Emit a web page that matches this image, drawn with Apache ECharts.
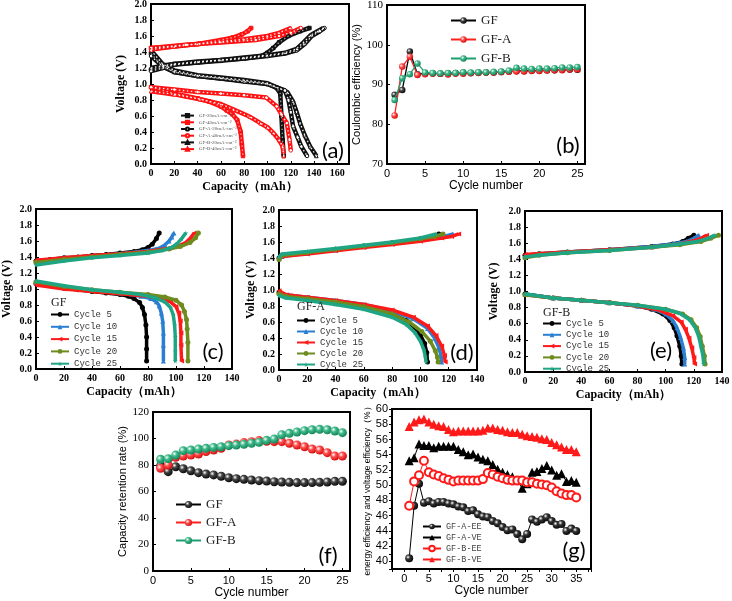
<!DOCTYPE html>
<html><head><meta charset="utf-8">
<script src="https://cdn.jsdelivr.net/npm/echarts@6/dist/echarts.min.js"></script>
<style>html,body{margin:0;padding:0;background:#fff}#c{width:732px;height:601px}</style>
</head><body><div id="c"></div>
<script>
// ---------- Panel (a): capacity (mAh) vs voltage (V) ----------
const aGF20Chg = [[0,1.18],[10,1.22],[20,1.25],[40,1.27],[60,1.29],[80,1.32],[95,1.35],[100,1.39],[105,1.45],[110,1.52],[118,1.60],[128,1.66],[136,1.70]];
const aGF20Dis = [[0,1.38],[5,1.30],[10,1.22],[20,1.15],[40,1.10],[60,1.07],[80,1.04],[100,1.00],[108,0.95],[111,0.88],[112,0.60],[113,0.30],[114,0.10]];
const aGF40Chg = [[0,1.45],[20,1.47],[40,1.50],[60,1.55],[70,1.58],[78,1.62],[83,1.66],[86,1.70]];
const aGF40Dis = [[0,0.96],[10,0.92],[20,0.88],[30,0.85],[40,0.82],[50,0.78],[60,0.72],[65,0.67],[70,0.62],[74,0.55],[77,0.40],[78,0.25],[79,0.10]];
const aGFA20Chg = [[0,1.16],[10,1.20],[20,1.24],[40,1.27],[60,1.30],[80,1.32],[100,1.35],[115,1.38],[125,1.42],[132,1.50],[138,1.60],[145,1.66],[149,1.70]];
const aGFA20Dis = [[0,1.35],[10,1.22],[20,1.15],[40,1.10],[60,1.07],[80,1.03],[100,1.00],[115,0.92],[118,0.80],[120,0.65],[122,0.47],[126,0.33],[129,0.22],[134,0.10]];
const aGFA40Chg = [[0,1.45],[30,1.49],[60,1.52],[90,1.55],[110,1.60],[120,1.64],[128.6,1.70]];
const aGFA40Dis = [[0,0.96],[20,0.93],[40,0.90],[60,0.88],[80,0.86],[99,0.83],[108,0.72],[112,0.62],[116.6,0.51],[119,0.30],[120,0.17]];
const aGFB20Chg = [[0,1.20],[10,1.23],[20,1.25],[40,1.28],[60,1.30],[80,1.33],[100,1.36],[115,1.39],[125,1.44],[131,1.52],[137,1.61],[143,1.66],[148,1.70]];
const aGFB20Dis = [[0,1.42],[10,1.25],[20,1.17],[40,1.11],[60,1.08],[80,1.05],[100,1.01],[117,0.90],[122,0.78],[125,0.65],[128,0.51],[132,0.36],[136.6,0.22],[142,0.10]];
const aGFB40Chg = [[0,1.43],[20,1.47],[40,1.50],[60,1.53],[80,1.56],[100,1.60],[110,1.64],[120,1.70]];
const aGFB40Dis = [[0,0.91],[20,0.87],[42,0.81],[60,0.75],[71,0.68],[85,0.59],[94,0.51],[100,0.46],[105,0.39],[110,0.30],[113,0.22],[114,0.10]];
const aNames = ['GF-20mA·cm⁻²','GF-40mA·cm⁻²','GF-A-20mA·cm⁻²','GF-A-40mA·cm⁻²','GF-B-20mA·cm⁻²','GF-B-40mA·cm⁻²'];

// ---------- Panels (b), (f): per cycle ----------
const cyc25 = [1,2,3,4,5,6,7,8,9,10,11,12,13,14,15,16,17,18,19,20,21,22,23,24,25];
const bGF  = [87.4,88.6,98.3,92.6,92.8,92.8,92.7,92.8,92.9,93.0,92.9,93.0,93.0,93.0,93.2,93.3,93.4,93.4,93.5,93.5,93.6,93.6,93.7,93.8,93.7];
const bGFA = [82.2,94.5,97.0,92.4,92.6,92.7,92.7,92.5,92.7,92.7,92.8,92.9,93.0,93.0,93.1,93.2,93.3,93.3,93.4,93.4,93.5,93.6,93.6,93.8,93.8];
const bGFB = [86.1,91.6,92.6,95.3,93.0,92.9,92.8,92.9,92.9,93.1,93.0,93.1,93.1,93.2,93.3,93.5,94.2,94.0,93.9,94.0,94.0,94.1,94.3,94.3,94.4];
const fGF  = [79.5,75.0,78.7,77.2,75.7,74.2,73.2,72.5,71.5,70.4,69.7,69.2,68.7,68.2,67.9,67.4,67.2,66.9,66.7,66.7,66.7,66.9,67.2,67.7,67.7];
const fGFA = [77.5,80.0,85.8,86.8,87.5,88.3,90.1,91.3,92.6,95.1,95.8,96.9,97.6,98.4,97.9,97.6,97.6,96.4,95.1,93.8,92.1,91.3,89.3,86.8,86.8];
const fGFB = [84.3,84.8,87.5,90.8,91.3,92.1,92.6,93.3,93.8,94.6,95.1,95.6,96.4,97.1,98.6,99.6,102.9,103.9,104.9,105.9,106.6,106.9,106.6,105.7,104.4];

// ---------- Panel (g) ----------
const cyc35 = [1,2,3,4,5,6,7,8,9,10,11,12,13,14,15,16,17,18,19,20,21,22,23,24,25,26,27,28,29,30,31,32,33,34,35];
const gAEE = [40.4,47.3,50.2,47.7,47.9,47.6,47.8,47.8,47.6,47.5,47.2,47.1,46.6,46.7,46.2,45.9,45.8,45.3,45.0,44.5,44.1,44.2,43.6,42.9,43.6,45.5,45.2,45.5,45.8,45.3,44.8,44.9,44.0,44.3,44.0];
const gAVE = [53.2,53.6,55.4,55.2,55.2,54.9,55.1,55.1,55.1,55.1,54.7,54.4,54.0,54.1,53.7,53.4,53.2,52.7,52.1,51.7,51.4,51.1,50.6,49.6,50.2,51.7,51.8,52.2,52.6,52.0,51.3,51.5,50.5,50.6,50.4];
const gBEE = [47.3,50.5,51.3,53.2,51.7,51.4,51.2,50.9,50.7,50.5,50.6,50.6,50.6,50.6,50.6,50.8,51.6,51.4,51.1,50.9,50.7,50.6,50.6,50.6,50.4,50.4,50.2,50.1,50.0,49.7,49.2,48.9,48.7,48.7,48.4];
const gBVE = [57.7,58.3,58.6,58.7,58.3,58.0,57.8,57.7,57.3,57.0,57.1,57.1,57.1,57.1,57.1,57.2,57.5,57.5,57.3,57.2,57.0,56.9,56.9,56.7,56.5,56.4,56.3,56.1,56.0,55.6,55.3,55.0,54.7,54.7,54.4];

// ---------- Panel (c): GF cycles ----------
const cC5Chg = [[0,1.35],[10,1.37],[20,1.39],[30,1.40],[40,1.42],[50,1.43],[60,1.45],[70,1.47],[76,1.49],[80,1.52],[83,1.56],[86,1.63],[88,1.70]];
const cC5Dis = [[0,1.07],[10,1.04],[20,1.01],[30,0.99],[40,0.97],[50,0.95],[60,0.93],[66,0.91],[70,0.88],[74,0.83],[76,0.77],[77.5,0.68],[78.5,0.55],[79,0.40],[79,0.25],[79,0.10]];
const cC10Chg = [[0,1.34],[20,1.38],[40,1.41],[60,1.44],[80,1.48],[88,1.51],[92,1.55],[95,1.60],[97,1.65],[98.5,1.70]];
const cC10Dis = [[0,1.08],[20,1.02],[40,0.98],[60,0.95],[75,0.91],[82,0.88],[86,0.84],[88,0.79],[89.5,0.70],[90.5,0.60],[91,0.45],[91,0.30],[91,0.10]];
const cC15Chg = [[0,1.36],[20,1.39],[40,1.42],[60,1.44],[80,1.47],[95,1.51],[102,1.54],[107,1.58],[110,1.63],[113,1.70]];
const cC15Dis = [[0,1.05],[20,1.00],[40,0.97],[60,0.94],[80,0.91],[90,0.88],[96,0.84],[100,0.78],[102,0.70],[103,0.60],[103.5,0.45],[103.5,0.30],[104,0.10]];
const cC20Chg = [[0,1.33],[20,1.37],[40,1.40],[60,1.43],[80,1.46],[95,1.50],[103,1.53],[110,1.58],[114,1.64],[116,1.70]];
const cC20Dis = [[0,1.09],[20,1.03],[40,0.99],[60,0.96],[80,0.93],[92,0.90],[100,0.86],[104,0.80],[106,0.72],[107.5,0.62],[108,0.50],[108.5,0.33],[108.5,0.10]];
const cC25Chg = [[0,1.30],[20,1.35],[40,1.39],[60,1.42],[80,1.45],[90,1.48],[97,1.52],[101,1.57],[104,1.63],[107,1.70]];
const cC25Dis = [[0,1.10],[20,1.04],[40,0.99],[60,0.96],[75,0.93],[85,0.89],[92,0.84],[96,0.77],[98,0.68],[99,0.55],[99.5,0.40],[99.5,0.22],[99.5,0.10]];

// ---------- Panel (d): GF-A cycles ----------
const dC5Chg = [[0,1.40],[2,1.43],[20,1.47],[40,1.51],[60,1.55],[80,1.59],[100,1.64],[110,1.67],[113,1.70]];
const dC5Dis = [[0,0.97],[5,0.93],[20,0.90],[40,0.86],[60,0.80],[80,0.70],[90,0.62],[96,0.53],[100,0.44],[103,0.33],[104.5,0.22],[105,0.10]];
const dC10Chg = [[0,1.39],[2,1.42],[20,1.46],[40,1.50],[60,1.54],[80,1.58],[100,1.62],[115,1.66],[123,1.70]];
const dC10Dis = [[0,0.97],[5,0.94],[20,0.91],[40,0.87],[60,0.82],[80,0.74],[95,0.64],[105,0.52],[110,0.40],[113,0.28],[114.5,0.18],[115,0.10]];
const dC15Chg = [[0,1.40],[2,1.42],[20,1.45],[40,1.49],[60,1.53],[80,1.57],[100,1.61],[115,1.65],[122,1.67],[127,1.70]];
const dC15Dis = [[0,0.99],[5,0.94],[20,0.91],[40,0.87],[60,0.82],[80,0.75],[95,0.66],[105,0.55],[111,0.43],[115,0.30],[117,0.18],[117.5,0.10]];
const dC20Chg = [[0,1.38],[2,1.43],[20,1.47],[40,1.51],[60,1.55],[80,1.59],[100,1.64],[110,1.67],[116,1.70]];
const dC20Dis = [[0,0.95],[5,0.92],[20,0.89],[40,0.85],[60,0.79],[80,0.70],[92,0.60],[101,0.48],[107,0.36],[110.5,0.24],[112,0.16],[112.5,0.10]];
const dC25Chg = [[0,1.41],[2,1.45],[20,1.48],[40,1.52],[60,1.56],[80,1.60],[100,1.65],[111,1.70]];
const dC25Dis = [[0,0.93],[5,0.90],[20,0.87],[40,0.82],[60,0.76],[80,0.66],[90,0.57],[96,0.47],[100,0.36],[102.5,0.25],[103.5,0.16],[104,0.10]];

// ---------- Panel (e): GF-B cycles ----------
const eC5Chg = [[0,1.45],[10,1.47],[30,1.49],[60,1.52],[90,1.56],[105,1.59],[112,1.62],[116,1.66],[120,1.70]];
const eC5Dis = [[0,0.97],[20,0.92],[40,0.89],[60,0.86],[80,0.82],[90,0.78],[98,0.72],[103,0.64],[106,0.55],[108,0.45],[110,0.32],[111,0.20],[111.5,0.10]];
const eC10Chg = [[0,1.44],[10,1.46],[30,1.49],[60,1.52],[90,1.56],[105,1.59],[115,1.62],[120,1.66],[123.5,1.70]];
const eC10Dis = [[0,0.97],[20,0.92],[40,0.89],[60,0.86],[80,0.82],[92,0.78],[100,0.72],[105,0.64],[108,0.55],[110.5,0.43],[112.5,0.30],[113.5,0.18],[113.5,0.10]];
const eC15Chg = [[0,1.46],[10,1.47],[30,1.49],[60,1.52],[90,1.55],[110,1.59],[120,1.63],[125,1.66],[129,1.70]];
const eC15Dis = [[0,0.96],[20,0.92],[40,0.89],[60,0.86],[80,0.82],[95,0.77],[105,0.70],[111,0.62],[114,0.53],[116.5,0.42],[118.5,0.30],[120,0.18],[120.5,0.10]];
const eC20Chg = [[0,1.42],[10,1.45],[30,1.48],[60,1.51],[90,1.55],[110,1.58],[125,1.62],[132,1.66],[137.5,1.70]];
const eC20Dis = [[0,0.96],[20,0.92],[40,0.89],[60,0.86],[80,0.83],[100,0.78],[112,0.72],[118,0.65],[122,0.55],[124.5,0.44],[126,0.32],[127.5,0.20],[128,0.10]];
const eC25Chg = [[0,1.43],[10,1.45],[30,1.48],[60,1.51],[90,1.55],[110,1.59],[122,1.62],[130,1.66],[135,1.70]];
const eC25Dis = [[0,0.97],[20,0.92],[40,0.89],[60,0.86],[80,0.83],[100,0.78],[110,0.73],[117,0.65],[121,0.55],[123.5,0.44],[125,0.32],[126.5,0.20],[127,0.10]];

const cycleNames = ['Cycle 5','Cycle 10','Cycle 15','Cycle 20','Cycle 25'];

// ---------- Build chart ----------
const SERIF = "'Liberation Serif','DejaVu Serif',serif";
const SANS = "'Liberation Sans',Arial,'DejaVu Sans',sans-serif";
const MONO = "'Liberation Mono','DejaVu Sans Mono',monospace";
const STAR = 'path://M50,0 L61,35 L98,35 L68,57 L79,91 L50,70 L21,91 L32,57 L2,35 L39,35 Z';
const cycColors = ['#000000','#2a7fd2','#ff1a1a','#6e8b1e','#1fa584'];
const cycSymbols = ['circle','triangle','triangle','circle',STAR];
const cycRot = [0,0,90,0,0];

const gridBoxes = [
  {left:151, top:4, width:198, height:160},
  {left:387, top:5, width:198, height:159},
  {left:36, top:209, width:196, height:160},
  {left:279, top:210, width:198, height:160},
  {left:525, top:211, width:197, height:161},
  {left:153, top:412, width:197, height:159},
  {left:392, top:409, width:199, height:160}
];
const grids = gridBoxes.map(g => Object.assign({show:true, borderColor:'#000', borderWidth:2, containLabel:false, outerBoundsMode:'none'}, g));

const fmtV = v => Math.abs(v*5 - Math.round(v*5)) < 1e-6 ? v.toFixed(1) : '';
const fmtCap = v => (Math.abs(v % 20) < 1e-6) ? String(v) : '';
const fmtCyc = v => (v >= 0 && Math.abs(v % 5) < 1e-6) ? String(v) : '';
const fmtEven = v => (Math.abs(v % 2) < 1e-6) ? String(v) : '';
const fmtPlain = v => String(v);

function axis(gi, min, max, interval, fmt, labFont, name, gap, nameFont, inside) {
  return {
    type:'value', gridIndex:gi, min, max, interval, name, nameLocation:'middle', nameGap:gap,
    nameTextStyle:Object.assign({color:'#000'}, nameFont),
    axisLine:{show:true, onZero:false, lineStyle:{color:'#000', width:2}},
    axisTick:{show:true, inside:inside !== false, length:3, lineStyle:{color:'#000', width:1}},
    axisLabel:Object.assign({color:'#000', margin:4, formatter:fmt, showMinLabel:true, showMaxLabel:true, hideOverlap:false}, labFont),
    splitLine:{show:false}
  };
}
const voltLab = {fontFamily:SERIF, fontWeight:'bold', fontSize:10};
const voltName = {fontFamily:SERIF, fontWeight:'bold', fontSize:12};
const sansLab = {fontFamily:SANS, fontSize:11};
const serifLab = {fontFamily:SERIF, fontSize:11};
const cycName = {fontFamily:SANS, fontSize:12};

const xAxes = [
  axis(0, 0, 170, 20, fmtCap, voltLab, 'Capacity（mAh）', 17, voltName),
  axis(1, 0, 26, 5, fmtCyc, sansLab, 'Cycle number', 16, cycName),
  axis(2, 0, 140, 20, fmtCap, voltLab, 'Capacity（mAh）', 17, voltName),
  axis(3, 0, 140, 20, fmtCap, voltLab, 'Capacity（mAh）', 17, voltName),
  axis(4, 0, 140, 20, fmtCap, voltLab, 'Capacity（mAh）', 17, voltName),
  axis(5, 0, 26, 5, fmtCyc, sansLab, 'Cycle number', 16, cycName),
  axis(6, -2.5, 38, 2.5, fmtCyc, sansLab, 'Cycle number', 16, cycName, false)
];
const yAxes = [
  axis(0, 0, 2, 0.2, fmtV, voltLab, 'Voltage (V)', 24, voltName),
  axis(1, 70, 110, 10, fmtPlain, serifLab, 'Coulombic efficiency (%)', 19, {fontFamily:SANS, fontSize:11}),
  axis(2, 0, 2, 0.2, fmtV, voltLab, 'Voltage (V)', 23, voltName),
  axis(3, 0, 2, 0.2, fmtV, voltLab, 'Voltage (V)', 22, voltName),
  axis(4, 0, 2, 0.2, fmtV, voltLab, 'Voltage (V)', 25, voltName),
  axis(5, 0, 120, 20, fmtPlain, serifLab, 'Capacity retention rate (%)', 22, {fontFamily:SANS, fontSize:11}),
  axis(6, 39, 60, 1, fmtEven, sansLab, 'energy efficiency and voltage efficiency（%）', 19, {fontFamily:SANS, fontSize:8.5}, false)
];

const series = [];
// panel (a)
const aDefs = [
  [aNames[0], '#111111', 'rect', false, aGF20Chg, aGF20Dis],
  [aNames[1], '#ff1111', 'rect', false, aGF40Chg, aGF40Dis],
  [aNames[2], '#111111', 'circle', true, aGFA20Chg, aGFA20Dis],
  [aNames[3], '#ff1111', 'circle', true, aGFA40Chg, aGFA40Dis],
  [aNames[4], '#111111', 'triangle', true, aGFB20Chg, aGFB20Dis],
  [aNames[5], '#ff1111', 'triangle', true, aGFB40Chg, aGFB40Dis]
];
aDefs.forEach((d, i) => {
  [d[4], d[5]].forEach((arr, k) => {
    series.push({type:'line', name:d[0], xAxisIndex:0, yAxisIndex:0, data:arr, symbol:d[2], symbolSize:3.5, showSymbol:true,
      lineStyle:{color:d[1], width:4.5}, itemStyle:{color:d[3] ? '#fff' : d[1], borderColor:d[1], borderWidth:1},
      emphasis:{disabled:true}, z:2});
    series.push({type:'line', name:'a-overlay-' + i + '-' + k, xAxisIndex:0, yAxisIndex:0, data:arr, symbol:'none', silent:true,
      lineStyle:{color:'#fff', width:1.3, type:[1.5, 2.5], opacity:d[3] ? 0.95 : 0.6}, emphasis:{disabled:true}, z:3});
  });
});

function ball(base, dark) {
  return {type:'radial', x:0.35, y:0.35, r:0.75, colorStops:[{offset:0, color:'#ffffff'}, {offset:0.35, color:base}, {offset:1, color:dark}]};
}
const pair = (xs, ys) => xs.map((x, i) => [x, ys[i]]);
const ballDefs = [['GF', '#000000', ball('#444', '#000')], ['GF-A', '#ff2020', ball('#ff5050', '#cc0000')], ['GF-B', '#1f9f70', ball('#40bb8c', '#0b7a50')]];
[bGF, bGFA, bGFB].forEach((arr, i) => {
  series.push({type:'line', name:ballDefs[i][0], xAxisIndex:1, yAxisIndex:1, data:pair(cyc25, arr), symbol:'circle', symbolSize:6.5,
    lineStyle:{color:ballDefs[i][1], width:1.3}, itemStyle:{color:ballDefs[i][2]}, emphasis:{disabled:true}, z:2 + i});
});
[fGF, fGFA, fGFB].forEach((arr, i) => {
  series.push({type:'line', name:ballDefs[i][0], xAxisIndex:5, yAxisIndex:5, data:pair(cyc25, arr), symbol:'circle', symbolSize:9,
    lineStyle:{color:ballDefs[i][1], width:1}, itemStyle:{color:ballDefs[i][2]}, emphasis:{disabled:true}, z:2 + i});
});

// panels (c), (d), (e)
const panelCycles = [
  [2, [[cC5Chg, cC5Dis], [cC10Chg, cC10Dis], [cC15Chg, cC15Dis], [cC20Chg, cC20Dis], [cC25Chg, cC25Dis]]],
  [3, [[dC5Chg, dC5Dis], [dC10Chg, dC10Dis], [dC15Chg, dC15Dis], [dC20Chg, dC20Dis], [dC25Chg, dC25Dis]]],
  [4, [[eC5Chg, eC5Dis], [eC10Chg, eC10Dis], [eC15Chg, eC15Dis], [eC20Chg, eC20Dis], [eC25Chg, eC25Dis]]]
];
panelCycles.forEach(([gi, sets]) => {
  sets.forEach((pairSet, ci) => {
    pairSet.forEach(arr => {
      series.push({type:'line', name:cycleNames[ci], xAxisIndex:gi, yAxisIndex:gi, data:arr, symbol:cycSymbols[ci], symbolRotate:cycRot[ci],
        symbolSize:5, showSymbol:true, lineStyle:{color:cycColors[ci], width:3.5}, itemStyle:{color:cycColors[ci]}, emphasis:{disabled:true}, z:2 + ci});
    });
  });
});

// panel (g)
const gNames = ['GF-A-EE', 'GF-A-VE', 'GF-B-EE', 'GF-B-VE'];
const gDefs = [
  [gAEE, 'circle', 8, '#000', {color:ball('#333', '#000')}],
  [gAVE, 'triangle', 9, '#000', {color:'#000'}],
  [gBEE, 'circle', 8, '#ff1a1a', {color:'#fff', borderColor:'#ff1a1a', borderWidth:2}],
  [gBVE, 'triangle', 9, '#ff1a1a', {color:'#ff1a1a'}]
];
gDefs.forEach((d, i) => {
  series.push({type:'line', name:gNames[i], xAxisIndex:6, yAxisIndex:6, data:pair(cyc35, d[0]), symbol:d[1], symbolSize:d[2],
    lineStyle:{color:d[3], width:1}, itemStyle:d[4], emphasis:{disabled:true}, z:2 + i});
});

const legBase = {orient:'vertical', selectedMode:false, padding:0};
const legends = [
  Object.assign({data:aNames, left:180, top:113, itemGap:1.5, itemWidth:13, itemHeight:4, textStyle:{fontSize:5, color:'#555', fontFamily:SERIF}}, legBase),
  Object.assign({data:['GF', 'GF-A', 'GF-B'], left:450, top:14, itemGap:6, itemWidth:25, itemHeight:8, textStyle:{fontSize:13, color:'#222', fontFamily:SERIF}}, legBase),
  Object.assign({data:cycleNames, left:50, top:310, itemGap:3.3, itemWidth:18, itemHeight:6, textStyle:{fontSize:9, color:'#333', fontFamily:MONO}}, legBase),
  Object.assign({data:cycleNames, left:296, top:316, itemGap:2, itemWidth:18, itemHeight:6, textStyle:{fontSize:9, color:'#333', fontFamily:MONO}}, legBase),
  Object.assign({data:cycleNames, left:542, top:319, itemGap:2.3, itemWidth:18, itemHeight:6, textStyle:{fontSize:9, color:'#333', fontFamily:MONO}}, legBase),
  Object.assign({data:['GF', 'GF-A', 'GF-B'], left:175, top:498, itemGap:5, itemWidth:25, itemHeight:9, textStyle:{fontSize:13, color:'#222', fontFamily:SERIF}}, legBase),
  Object.assign({data:gNames, left:422, top:522, itemGap:2, itemWidth:18, itemHeight:7, textStyle:{fontSize:8.5, color:'#444', fontFamily:MONO}}, legBase)
];

const letters = [['(a)', 333, 151], ['(b)', 568, 146], ['(c)', 213, 352], ['(d)', 462, 353], ['(e)', 661, 351], ['(f)', 328, 556], ['(g)', 574, 551]];
const graphics = letters.map(l => ({type:'text', z:100, style:{text:l[0], x:l[1], y:l[2], align:'center', verticalAlign:'middle', fill:'#000', font:"22px Lato, 'Open Sans', sans-serif"}}));
[['GF', 51, 303], ['GF-A', 297, 307], ['GF-B', 543, 313]].forEach(t => {
  graphics.push({type:'text', z:100, style:{text:t[0], x:t[1], y:t[2], align:'left', verticalAlign:'middle', fill:'#222', font:"12px 'Liberation Serif', serif"}});
});

const chart = echarts.init(document.getElementById('c'));
chart.setOption({
  animation:false, backgroundColor:'#fff',
  grid:grids, xAxis:xAxes, yAxis:yAxes, series, legend:legends, graphic:graphics, tooltip:{show:false}
});
</script></body></html>
